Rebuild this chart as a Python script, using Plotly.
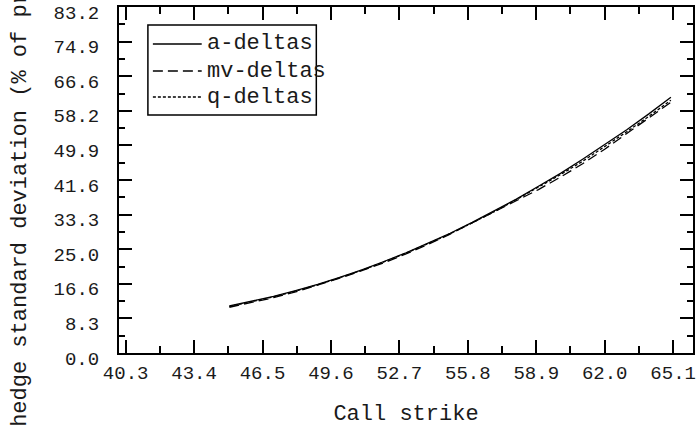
import plotly.graph_objects as go

# Call strikes and hedge standard deviation for each delta scheme
strikes = [45, 46, 47, 48, 49, 50, 51, 52, 53, 54, 55,
           56, 57, 58, 59, 60, 61, 62, 63, 64, 65]
a_deltas = [11.3, 12.4, 13.6, 15.0, 16.5, 18.2, 20.0, 22.0, 24.1, 26.4, 28.8,
            31.4, 34.1, 37.0, 40.1, 43.2, 46.6, 50.1, 53.7, 57.5, 61.5]
mv_deltas = [11.0, 12.1, 13.3, 14.7, 16.3, 18.0, 19.8, 21.7, 23.8, 26.1, 28.6,
             31.3, 34.1, 36.6, 39.3, 42.3, 45.5, 49.0, 52.7, 56.5, 60.3]
q_deltas = [11.2, 12.3, 13.5, 14.9, 16.4, 18.1, 19.9, 21.9, 24.0, 26.3, 28.7,
            31.3, 34.0, 36.9, 39.8, 42.9, 46.1, 49.6, 53.2, 56.9, 60.8]

x_ticks = [40.3, 43.4, 46.5, 49.6, 52.7, 55.8, 58.9, 62.0, 65.1]
x_tick_text = ["40.3", "43.4", "46.5", "49.6", "52.7", "55.8", "58.9", "62.0", "65.1"]
y_ticks = [0.0, 8.32, 16.64, 24.96, 33.28, 41.6, 49.92, 58.24, 66.56, 74.88, 83.2]
y_tick_text = ["0.0", "8.3", "16.6", "25.0", "33.3", "41.6", "49.9", "58.2", "66.6", "74.9", "83.2"]

series_names = ["a-deltas", "mv-deltas", "q-deltas"]
series_dash = ["solid", "10px,5px", "3px,2px"]

FONT = "Courier New, Liberation Mono, monospace"
INK = "#1a1a1a"
W, H = 696, 431
L, R, T, B = 119, 1, 7, 78
plot_w = W - L - R
plot_h = H - T - B

fig = go.Figure()
for name, ys, dash in zip(series_names, [a_deltas, mv_deltas, q_deltas], series_dash):
    fig.add_trace(go.Scatter(x=strikes, y=ys, mode="lines", name=name,
                             line=dict(color="black", width=1.3, dash=dash),
                             showlegend=False))

axis_common = dict(
    showline=True, linecolor="black", linewidth=2, mirror="allticks",
    ticks="inside", ticklen=13, tickwidth=2, tickcolor="black",
    showgrid=False, zeroline=False,
    tickfont=dict(family=FONT, size=19, color=INK),
)

fig.update_xaxes(range=[40.0, 66.0], tickmode="array", tickvals=x_ticks,
                 ticktext=x_tick_text,
                 minor=dict(ticks="inside", ticklen=7, tickwidth=2, tickcolor="black",
                            dtick=1.55, tick0=40.3, showgrid=False),
                 title=dict(text="Call strike", font=dict(family=FONT, size=22, color=INK),
                            standoff=21),
                 ticklabelstandoff=1,
                 **axis_common)
fig.update_yaxes(range=[0, 83.2], tickmode="array", tickvals=y_ticks,
                 ticktext=y_tick_text,
                 minor=dict(ticks="inside", ticklen=6, tickwidth=2, tickcolor="black",
                            dtick=4.16, tick0=0, showgrid=False),
                 ticklabelshift=5, ticklabelstandoff=14,
                 **axis_common)


def px_x(px):
    return (px - L) / plot_w


def px_y(py):
    return (H - B - py) / plot_h


# Legend box drawn in paper space
shapes = [dict(type="rect", xref="paper", yref="paper",
               x0=px_x(148), x1=px_x(317), y0=px_y(115), y1=px_y(25),
               line=dict(color="black", width=1.5), fillcolor="white", layer="above")]
annotations = []
rows_y = [44, 71, 97]
for name, dash, ry in zip(series_names, series_dash, rows_y):
    shapes.append(dict(type="line", xref="paper", yref="paper",
                       x0=px_x(153), x1=px_x(202), y0=px_y(ry), y1=px_y(ry),
                       line=dict(color="black", width=1.3, dash=dash), layer="above"))
    annotations.append(dict(xref="paper", yref="paper", x=px_x(205), y=px_y(ry),
                            xanchor="left", yanchor="middle", showarrow=False,
                            text=name, font=dict(family=FONT, size=22, color=INK)))

# Rotated y-axis title, anchored at its lower end
annotations.append(dict(xref="paper", yref="paper", x=px_x(20), y=px_y(429),
                        xanchor="center", yanchor="bottom", showarrow=False,
                        textangle=-90,
                        text="hedge standard deviation (% of premium)",
                        font=dict(family=FONT, size=22, color=INK)))

fig.update_layout(width=W, height=H,
                  margin=dict(l=L, r=R, t=T, b=B, pad=0),
                  paper_bgcolor="white", plot_bgcolor="white",
                  shapes=shapes, annotations=annotations, showlegend=False)

fig.write_html("out.html")
